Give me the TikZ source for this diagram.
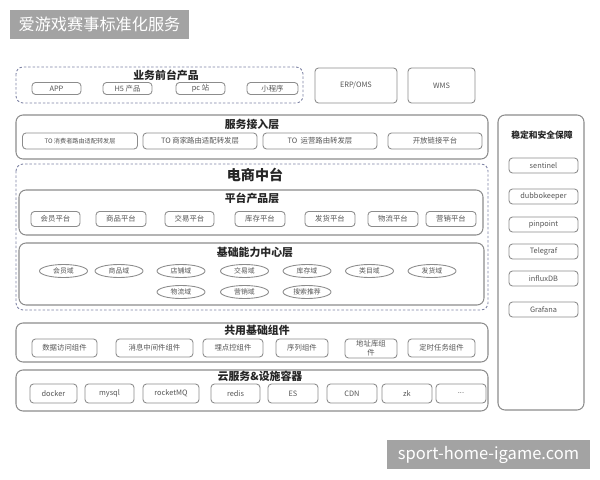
\documentclass[tikz,border=0pt]{standalone}
\usepackage{fontspec}
\setmainfont{Noto Sans CJK SC}
\usetikzlibrary{shapes.geometric}

\definecolor{linegray}{HTML}{8C8C8C}
\definecolor{dashblue}{HTML}{7D82A3}
\definecolor{bannergray}{HTML}{A3A3A3}
\definecolor{textgray}{HTML}{555555}

\tikzset{
  layer/.style={draw=linegray, rounded corners=4pt, line width=0.6pt},
  dashlayer/.style={draw=dashblue, dash pattern=on 1.4pt off 1.1pt, rounded corners=4pt, line width=0.5pt},
  item/.style={draw=linegray, rounded corners=2pt, line width=0.5pt, minimum width=#1*0.2mm, minimum height=3mm, inner sep=0pt, text=textgray, font=\fontsize{4.2}{4.6}\selectfont},
  areaoval/.style={ellipse, draw=linegray, line width=0.5pt, minimum width=9.6mm, minimum height=2.6mm, inner sep=0pt, text=textgray, font=\fontsize{3.9}{4.2}\selectfont},
  heading/.style={font=\fontsize{6.2}{7}\selectfont\bfseries, text=black!85},
  banner/.style={fill=bannergray, text=white, inner sep=0pt, minimum height=5.8mm}
}

\begin{document}
\begin{tikzpicture}[x=0.2mm, y=-0.2mm]

\useasboundingbox (0,0) rectangle (600,480);

%% banners
\node[banner, minimum width=35.8mm, font=\fontsize{9.2}{10}\selectfont] (title) at (99.5,24.5) {爱游戏赛事标准化服务};
\node[banner, minimum width=40.6mm, font=\fontsize{9.4}{10}\selectfont] (site) at (488.5,454.5) {sport-home-igame.com};

%% front products
\draw[dashlayer] (16,67) rectangle (303,103);
\node[heading] (front) at (166,75) {业务前台产品};
\node[item=49, minimum height=2.4mm] (app) at (56.5,88.5) {APP};          %% app
\node[item=49, minimum height=2.4mm] (hfive) at (127.5,88.5) {H5 产品};   %% h5
\node[item=49, minimum height=2.4mm] (pc) at (200.5,88.5) {pc 站};        %% pc
\node[item=51, minimum height=2.4mm] (mini) at (272.5,88.5) {小程序};     %% mini program
\node[item=82, minimum height=7mm] (erp) at (356,85.5) {ERP/OMS};
\node[item=67, minimum height=7mm] (wms) at (441.5,85.5) {WMS};

%% access layer
\draw[layer] (16,115) rectangle (488,159);
\node[heading] (access) at (252,124) {服务接入层};
\node[item=115, minimum height=3.2mm, font=\fontsize{3.5}{4}\selectfont] (toc) at (80,141) {TO 消费者路由适配转发层};
\node[item=114, minimum height=3.2mm] (tob) at (200,141) {TO 商家路由适配转发层};
\node[item=114, minimum height=3.2mm] (too) at (320,141) {TO\ \ 运营路由转发层};
\node[item=94, minimum height=3.2mm] (open) at (435,141) {开放链接平台};

%% middle platform
\draw[dashlayer] (16,164) rectangle (488,310);
\node[font=\fontsize{8}{9}\selectfont\bfseries, text=black!85] (midpf) at (255,175) {电商中台};

%% platform product layer
\draw[layer] (19,190) rectangle (483,235);
\node[heading] (pflayer) at (252,198) {平台产品层};
\node[item=49] (pmember) at (55.5,219) {会员平台};
\node[item=50] (pgoods) at (121,219) {商品平台};
\node[item=49] (ptrade) at (189.5,219) {交易平台};
\node[item=50] (pstock) at (260,219) {库存平台};
\node[item=50] (pship) at (330,219) {发货平台};
\node[item=50] (plogi) at (393,219) {物流平台};
\node[item=50] (pmkt) at (451,219) {营销平台};

%% capability center layer
\draw[layer] (19,243) rectangle (484,305);
\node[heading] (cclayer) at (255,252) {基础能力中心层};
\node[areaoval] (dmember) at (63.5,271) {会员域};
\node[areaoval] (dgoods) at (119,271) {商品域};
\node[areaoval] (dshop) at (181,271) {店铺域};
\node[areaoval] (dtrade) at (244.5,271) {交易域};
\node[areaoval] (dstock) at (307,271) {库存域};
\node[areaoval] (dcat) at (369.5,271) {类目域};
\node[areaoval] (dship) at (432,271) {发货域};
\node[areaoval] (dlogi) at (181,292) {物流域};
\node[areaoval] (dmkt) at (244.5,292) {营销域};
\node[areaoval] (dsearch) at (307,292) {搜索推荐};

%% shared components
\draw[layer] (16,323) rectangle (488,362);
\node[heading] (shared) at (257,330) {共用基础组件};
\node[item=65, minimum height=3.6mm] (cdata) at (64.5,348) {数据访问组件};
\node[item=77, minimum height=3.6mm] (cmsg) at (154.5,348) {消息中间件组件};
\node[item=60, minimum height=3.6mm] (ctrack) at (233,348) {埋点控组件};
\node[item=52, minimum height=3.6mm] (cseq) at (302,348) {序列组件};
\node[item=52, minimum height=3.8mm, align=center, font=\fontsize{4.2}{5.2}\selectfont] (caddr) at (371,348.5) {地址库组\\件};
\node[item=67, minimum height=3.6mm] (ctimer) at (441.5,348) {定时任务组件};

%% cloud services
\draw[layer] (16,370) rectangle (488,411);
\node[heading] (cloud) at (260,376) {云服务\&设施容器};
\node[item=47, minimum height=3.8mm] (docker) at (53.5,393.5) {docker};
\node[item=49, minimum height=3.8mm] (mysql) at (109.5,393.5) {mysql};
\node[item=56, minimum height=3.8mm] (rmq) at (171,393.5) {rocketMQ};
\node[item=49, minimum height=3.8mm] (redis) at (235.5,393.5) {redis};
\node[item=50, minimum height=3.8mm] (es) at (293,393.5) {ES};
\node[item=50, minimum height=3.8mm] (cdn) at (352,393.5) {CDN};
\node[item=50, minimum height=3.8mm] (zk) at (407,393.5) {zk};
\node[item=50, minimum height=3.8mm] (more) at (461,393.5) {...};

%% stability column
\draw[layer] (498,115) rectangle (584,410);
\node[heading, font=\fontsize{5}{6}\selectfont\bfseries] (guard) at (542,135) {稳定和安全保障};
\node[item=69] (sentinel) at (543.5,165.5) {sentinel};
\node[item=69] (dubbo) at (543.5,196.5) {dubbokeeper};
\node[item=69] (pinpoint) at (543.5,224.5) {pinpoint};
\node[item=69] (telegraf) at (543.5,251.5) {Telegraf};
\node[item=69] (influx) at (543.5,278.5) {influxDB};
\node[item=69] (grafana) at (543.5,309.5) {Grafana};

\end{tikzpicture}
\end{document}
